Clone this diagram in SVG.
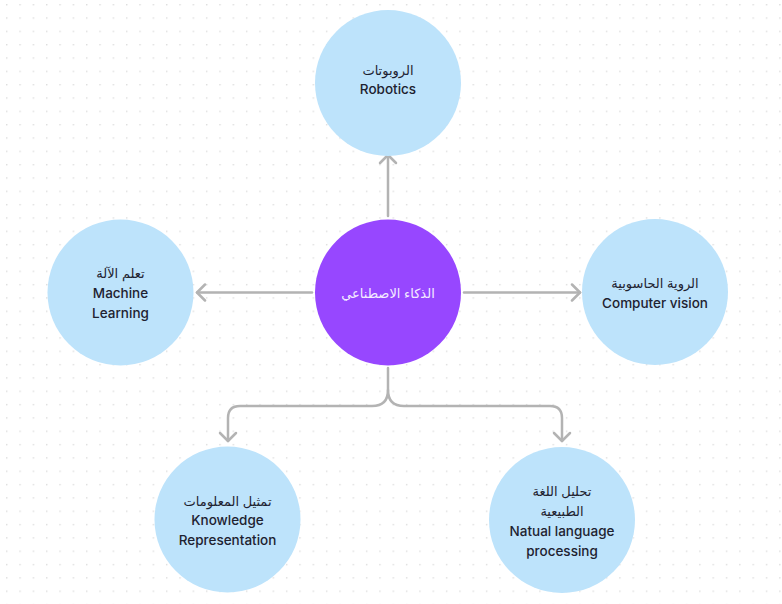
<svg xmlns="http://www.w3.org/2000/svg" width="782" height="604" viewBox="0 0 782 604">
<defs>
<pattern id="dots" x="6" y="4" width="13.33" height="13.33" patternUnits="userSpaceOnUse">
<circle cx="0.7" cy="0.7" r="0.8" fill="#dcdcdc"/>
</pattern>
<marker id="chev" viewBox="-10 -10 12 20" refX="0" refY="0" markerWidth="12" markerHeight="20" markerUnits="userSpaceOnUse" orient="auto">
<path d="M-8,-8 L0,0 L-8,8" fill="none" stroke="#b3b3b3" stroke-width="2.5" stroke-linecap="round" stroke-linejoin="round"/>
</marker>
</defs>
<style>
.bg{fill:#ffffff}
.leaf{fill:#bde3fb}
.hub{fill:#9747ff}
.conn{fill:none;stroke:#b3b3b3;stroke-width:2.5;stroke-linecap:round}
text{font-family:Inter,"Noto Sans","DejaVu Sans",sans-serif;font-size:13.5px;font-weight:500;text-anchor:middle;dominant-baseline:central;fill:#1e2230}
.ar{font-size:13px;font-weight:400}
.light{fill:#f4ecff}
</style>
<rect class="bg" width="782" height="604"/>
<rect width="782" height="604" fill="url(#dots)"/>
<g id="connectors">
<path class="conn" d="M388,216 L388,155" marker-end="url(#chev)"/>
<path class="conn" d="M464,292.5 L580,292.5" marker-end="url(#chev)"/>
<path class="conn" d="M312,292.5 L197,292.5" marker-end="url(#chev)"/>
<path class="conn" d="M388,368 L388,390 Q388,406 372,406 L240,406 Q228,406 228,418 L228,441" marker-end="url(#chev)"/>
<path class="conn" d="M388,390 Q388,406 404,406 L550,406 Q562,406 562,418 L562,441" marker-end="url(#chev)"/>
</g>
<g id="node-robotics">
<circle class="leaf" cx="388" cy="83" r="73"/>
<text class="ar" x="388" y="70">الروبوتات</text>
<text x="388" y="89">Robotics</text>
</g>
<g id="node-ai">
<circle class="hub" cx="388" cy="292.5" r="73"/>
<text class="ar light" x="388" y="293">الذكاء الاصطناعي</text>
</g>
<g id="node-ml">
<circle class="leaf" cx="120.5" cy="292.5" r="73"/>
<text class="ar" x="120.5" y="273">تعلم الآلة</text>
<text x="120.5" y="293">Machine</text>
<text x="120.5" y="313">Learning</text>
</g>
<g id="node-cv">
<circle class="leaf" cx="655" cy="292" r="73"/>
<text class="ar" x="655" y="283">الروية الحاسوبية</text>
<text x="655" y="303">Computer vision</text>
</g>
<g id="node-kr">
<circle class="leaf" cx="227.5" cy="519.5" r="73"/>
<text class="ar" x="227.5" y="501">تمثيل المعلومات</text>
<text x="227.5" y="520">Knowledge</text>
<text x="227.5" y="540">Representation</text>
</g>
<g id="node-nlp">
<circle class="leaf" cx="562" cy="520" r="73"/>
<text class="ar" x="562" y="491">تحليل اللغة</text>
<text class="ar" x="562" y="511">الطبيعية</text>
<text x="562" y="531">Natual language</text>
<text x="562" y="551">processing</text>
</g>
</svg>
